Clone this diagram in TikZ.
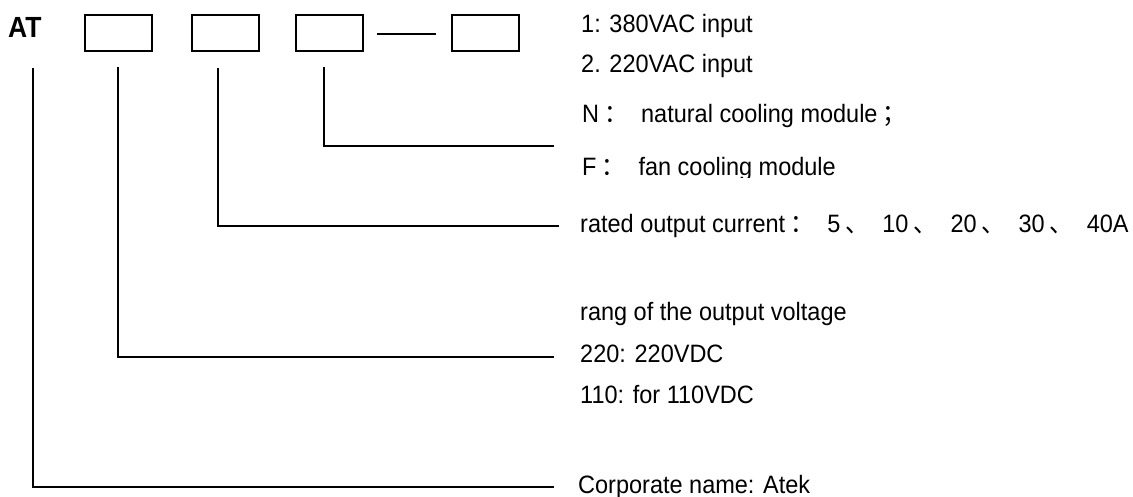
\documentclass[tikz,border=0pt]{standalone}
\usepackage{fontspec}
\setmainfont{Liberation Sans}
\newfontfamily\cjk{Noto Sans CJK SC}
\newcommand\tl[1]{\scalebox{1}[1.07]{#1}}
\newcommand\cj[1]{\hspace{5pt}{\cjk #1}\hspace{13.5pt}}
\begin{document}
\begin{tikzpicture}[x=1pt,y=-1pt,
  ln/.style={line width=2pt,line cap=rect},
  cbox/.style={draw,line width=1.8pt,minimum width=67pt,minimum height=36pt,inner sep=0pt,anchor=north west},
  lbl/.style={anchor=base west,inner sep=0pt,font=\fontsize{23.5}{28}\selectfont}]
\useasboundingbox (0,0) rectangle (1133,497);
\node[anchor=base west,inner sep=0pt,font=\fontsize{26.5}{32}\selectfont\bfseries] (at) at (8,38) {\scalebox{1}[1.1]{AT}};
\node[cbox] (b1) at (84,14) {};
\node[cbox] (b2) at (191,14) {};
\node[cbox] (b3) at (295,14) {};
\node[cbox] (b4) at (451,14) {};
\coordinate (d1) at (377,34);
\coordinate (d2) at (436,34);
\draw[ln,line cap=butt] (d1) -- (d2);
% labels
\node[lbl] (t1) at (581,33) {\tl{1: 380VAC input}};
\node[lbl] (t2) at (581,73) {\tl{2. 220VAC input}};
\node[lbl] (tn) at (582,123) {\tl{N\cj{：}natural cooling module\cj{；}}};
\begin{scope}
\clip (570,150) rectangle (900,178);
\node[lbl] (tf) at (582,176) {\tl{F\cj{：}fan cooling module}};
\end{scope}
\node[lbl] (tr) at (580,233) {\tl{rated output current\cj{：}5\cj{、}10\cj{、}20\cj{、}30\cj{、}40A}};
\node[lbl] (tv) at (580,320) {\tl{rang of the output voltage}};
\node[lbl] (t220) at (580,362) {\tl{220: 220VDC}};
\node[lbl] (t110) at (580,403) {\tl{110: for 110VDC}};
\node[lbl] (tc) at (578,493) {\tl{Corporate name: Atek}};
% connectors
\coordinate (s0) at (33,69);
\coordinate (s1) at (118,68);
\coordinate (s2) at (218,69);
\coordinate (s3) at (324,68);
\coordinate (e0) at (553,487);
\coordinate (e1) at (553,357);
\coordinate (e2) at (558,226);
\coordinate (e3) at (553,146);
\draw[ln] (s0) |- (e0);
\draw[ln] (s1) |- (e1);
\draw[ln] (s2) |- (e2);
\draw[ln] (s3) |- (e3);
\end{tikzpicture}
\end{document}
